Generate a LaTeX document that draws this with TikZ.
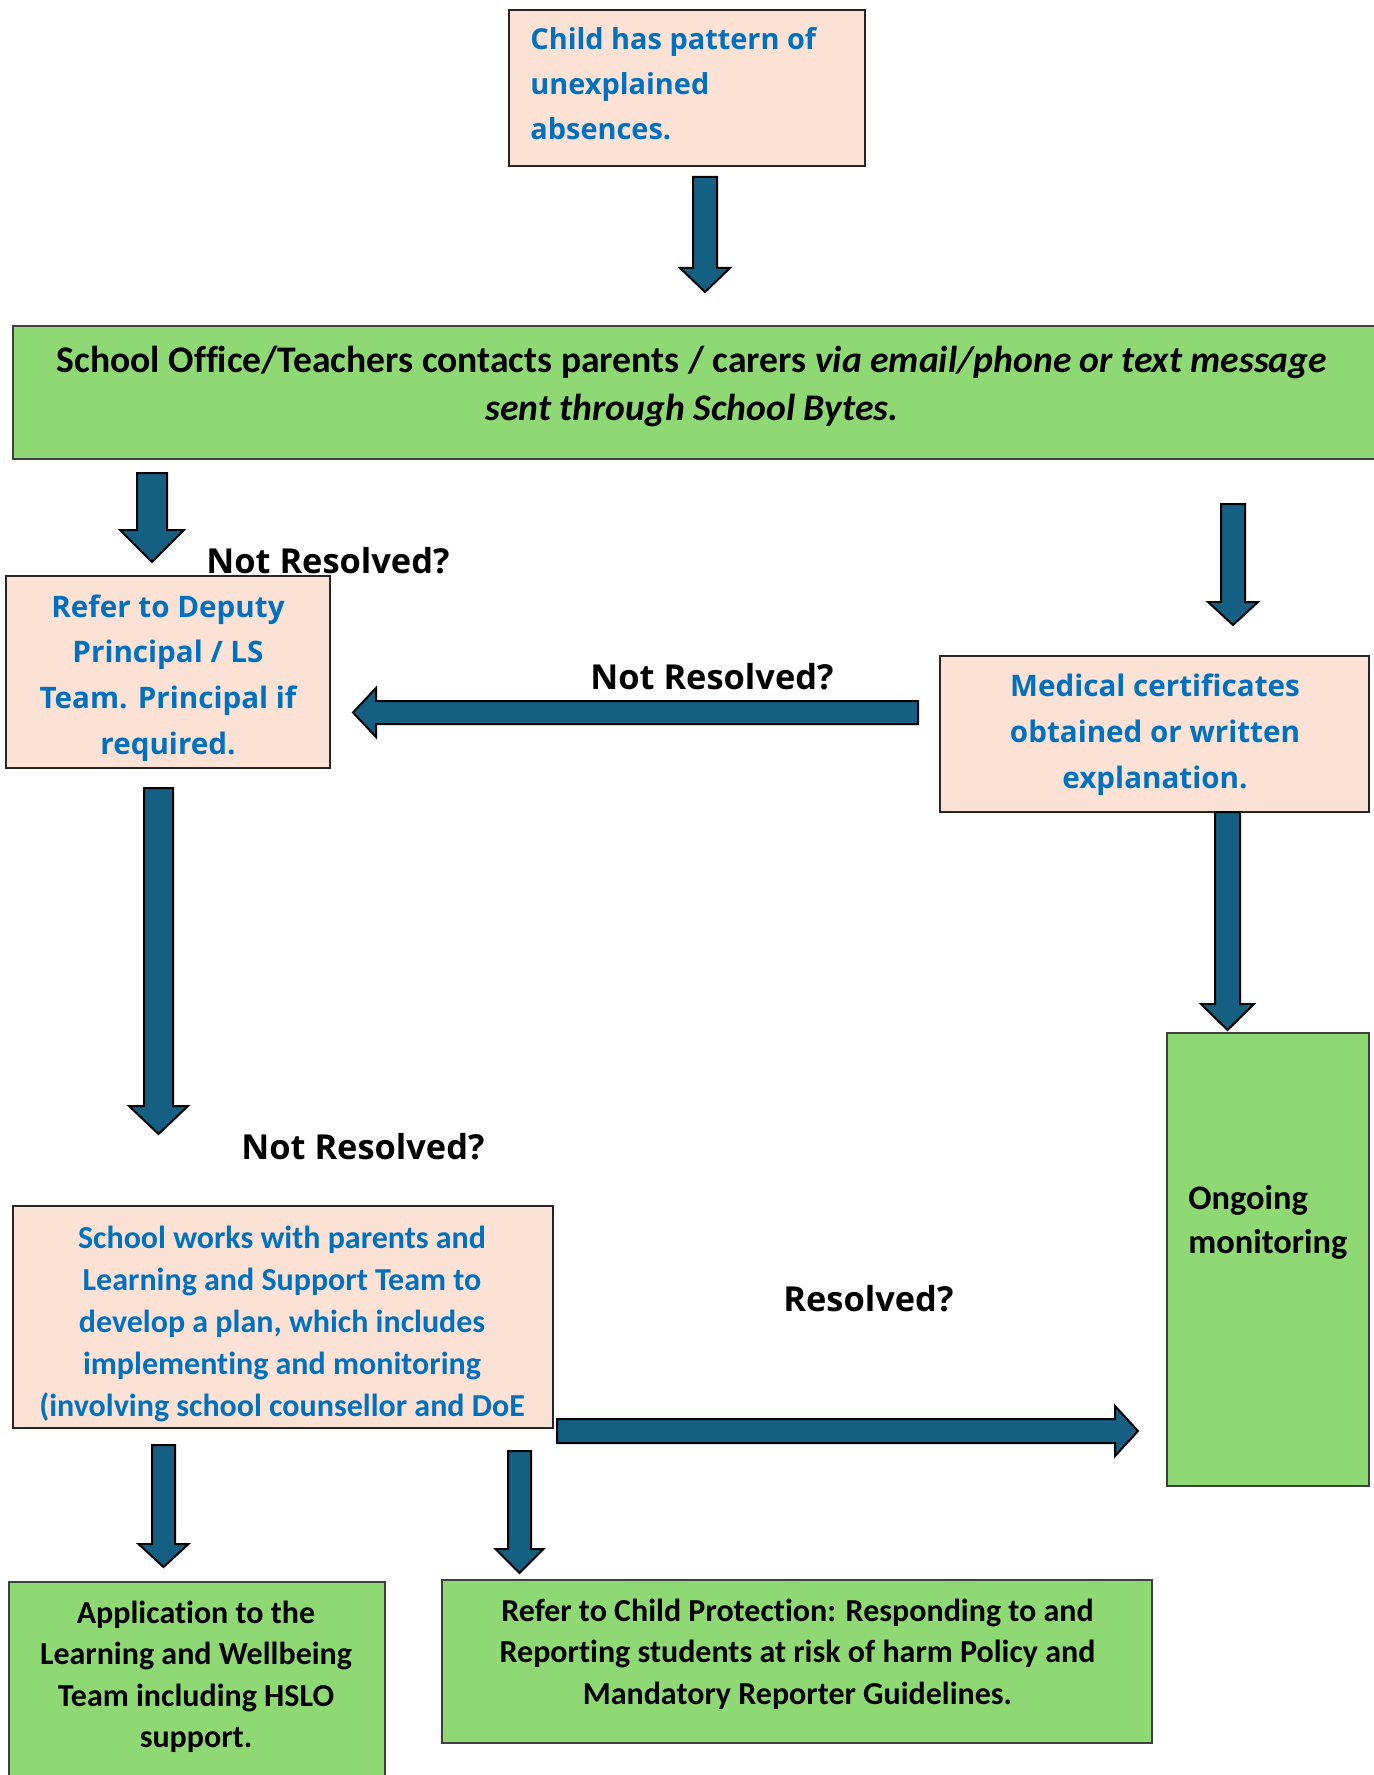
\documentclass[tikz,border=0pt]{standalone}
\usepackage{fontspec}
\setmainfont{Carlito}[Ligatures=NoCommon]
\newfontfamily\aptfont{Open Sans}
\usetikzlibrary{fit}
\definecolor{peach}{HTML}{FBE2D5}
\definecolor{leaf}{HTML}{8ED973}
\definecolor{txtblue}{HTML}{0070C0}
\definecolor{arrowblue}{HTML}{156082}
\newcommand{\downblock}[6]{% cx, top, half shaft, head y, half head, tip
  \filldraw[blockarrow] (#1-#3,#2) -- (#1+#3,#2) -- (#1+#3,#4) -- (#1+#5,#4) -- (#1,#6) -- (#1-#5,#4) -- (#1-#3,#4) -- cycle;}
\begin{document}
\begin{tikzpicture}[x=0.5pt,y=-0.5pt,
  pbox/.style={draw=black!85,line width=1pt,fill=peach,inner sep=0pt},
  gbox/.style={draw=black!75,line width=1pt,fill=leaf,inner sep=0pt},
  blockarrow/.style={fill=arrowblue,draw=black,line width=1pt,line join=miter},
  apttxt/.style={font=\aptfont\bfseries\fontsize{14.8pt}{18pt}\selectfont,text=txtblue,inner sep=0pt},
  apttop/.style={font=\aptfont\bfseries\fontsize{14.45pt}{18pt}\selectfont,text=txtblue,inner sep=0pt},
  lbltxt/.style={font=\aptfont\bfseries\fontsize{17.2pt}{21pt}\selectfont,text=black,inner sep=0pt},
  caltxt/.style={font=\bfseries\fontsize{17.2pt}{20pt}\selectfont,text=black,inner sep=0pt},
  calblue/.style={font=\bfseries\fontsize{16pt}{20pt}\selectfont,text=txtblue,inner sep=0pt},
  maintxt/.style={font=\bfseries\fontsize{18.8pt}{22pt}\selectfont,text=black,inner sep=0pt},
  smalltxt/.style={font=\bfseries\fontsize{16pt}{19pt}\selectfont,text=black,inner sep=0pt}]
\useasboundingbox (0,0) rectangle (1374,1775);
\fill[white] (0,0) rectangle (1374,1775);

% boxes
\node (top) [pbox,fit={(509,10) (865,166)}] {};
\node (office) [gbox,fit={(13,326) (1390,459)}] {};
\node (deputy) [pbox,fit={(6,576) (330,768)}] {};
\node (medical) [pbox,fit={(940,656) (1369,812)}] {};
\node (ongoing) [gbox,fit={(1167,1033) (1369,1486)}] {};
\node (plan) [pbox,fit={(13,1206) (553,1428)}] {};
\node (appl) [gbox,fit={(9,1582) (385,1800)}] {};
\node (cp) [gbox,fit={(442,1580) (1152,1743)}] {};

% block arrows
\downblock{705}{177}{12}{268}{25}{292}
\downblock{152}{473}{15}{530}{32}{562}
\downblock{1233}{504}{12}{602}{25}{625}
\downblock{158.5}{788}{14.5}{1106}{29.5}{1134}
\downblock{1227.5}{812}{12.5}{1004}{26.5}{1030}
\downblock{163.5}{1445}{11.5}{1544}{25}{1567}
\downblock{519.5}{1451}{11.5}{1549}{24}{1573}
\filldraw[blockarrow] (918,701) -- (918,724) -- (376,724) -- (376,737) -- (353,712.5) -- (376,688) -- (376,701) -- cycle;
\filldraw[blockarrow] (557,1419) -- (1115,1419) -- (1115,1406) -- (1138,1431) -- (1115,1456) -- (1115,1443) -- (557,1443) -- cycle;

% top box text
\node (t1) [apttop,anchor=base west] at (530,50) {Child has pattern of};
\node (t2) [apttop,anchor=base west] at (530,95) {unexplained};
\node (t3) [apttop,anchor=base west] at (530,140) {absences.};

% office text
\node (o1) [maintxt,anchor=base] at (692,373) {School Office/Teachers contacts parents / carers \textit{via email/phone or text message}};
\node (o2) [maintxt,anchor=base] at (692,421) {\textit{sent through School Bytes.}};

% labels
\node (l1) [lbltxt,anchor=base west] at (206,573) {Not Resolved?};
\node (l2) [lbltxt,anchor=base west] at (590,689) {Not Resolved?};
\node (l3) [lbltxt,anchor=base west] at (241,1159) {Not Resolved?};
\node (l4) [lbltxt,anchor=base west] at (783,1311) {Resolved?};

% deputy text
\node (d1) [apttxt,anchor=base] at (168,617) {Refer to Deputy};
\node (d2) [apttxt,anchor=base] at (168,662) {Principal / LS};
\node (d3) [apttxt,anchor=base] at (168,708) {Team. Principal if};
\node (d4) [apttxt,anchor=base] at (168,754) {required.};

% medical text
\node (m1) [apttxt,anchor=base] at (1155,696) {Medical certificates};
\node (m2) [apttxt,anchor=base] at (1155,742) {obtained or written};
\node (m3) [apttxt,anchor=base] at (1155,788) {explanation.};

% ongoing text
\node (g1) [caltxt,anchor=base west] at (1188,1209) {Ongoing};
\node (g2) [caltxt,anchor=base west] at (1188,1253) {monitoring};

% plan text
\begin{scope}
\clip (14,1207) rectangle (552,1427);
\node (p1) [calblue,anchor=base] at (282,1248) {School works with parents and};
\node (p2) [calblue,anchor=base] at (282,1290) {Learning and Support Team to};
\node (p3) [calblue,anchor=base] at (282,1332) {develop a plan, which includes};
\node (p4) [calblue,anchor=base] at (282,1374) {implementing and monitoring};
\node (p5) [calblue,anchor=base] at (282,1416) {(involving school counsellor and DoE};
\end{scope}

% application text
\node (a1) [smalltxt,anchor=base] at (196,1623) {Application to the};
\node (a2) [smalltxt,anchor=base] at (196,1664) {Learning and Wellbeing};
\node (a3) [smalltxt,anchor=base] at (196,1706) {Team including HSLO};
\node (a4) [smalltxt,anchor=base] at (196,1747) {support.};

% child protection text
\node (c1) [smalltxt,anchor=base] at (797.5,1621) {Refer to Child Protection: Responding to and};
\node (c2) [smalltxt,anchor=base] at (797.5,1662) {Reporting students at risk of harm Policy and};
\node (c3) [smalltxt,anchor=base] at (797.5,1704) {Mandatory Reporter Guidelines.};
\end{tikzpicture}
\end{document}
